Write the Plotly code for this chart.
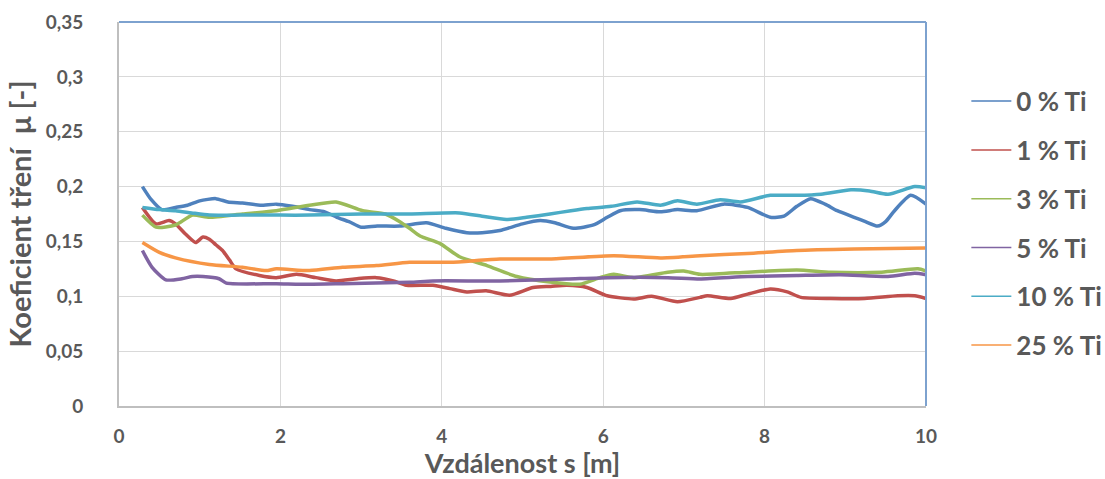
import plotly.graph_objects as go

# Friction coefficient vs. sliding distance for Ti additions
series_names = ["0 % Ti", "1 % Ti", "3 % Ti", "5 % Ti", "10 % Ti", "25 % Ti"]
series_colors = ["#4F81BD", "#C0504D", "#9BBB59", "#8064A2", "#4BACC6", "#F79646"]

s_ti0 = [0.29, 0.4, 0.53, 0.7, 0.85, 1.0, 1.2, 1.35, 1.53, 1.75, 1.95, 2.15, 2.36, 2.55, 2.7, 2.85,
         3.0, 3.2, 3.48, 3.81, 4.05, 4.31, 4.5, 4.72, 5.0, 5.22, 5.4, 5.63, 5.88, 6.05, 6.21, 6.45,
         6.71, 6.92, 7.16, 7.49, 7.79, 8.07, 8.24, 8.4, 8.57, 8.75, 8.9, 9.11, 9.25, 9.4, 9.5, 9.61,
         9.81, 10.0]
mu_ti0 = [0.200, 0.188, 0.179, 0.181, 0.183, 0.187, 0.189, 0.186, 0.185, 0.183, 0.184, 0.182, 0.179,
          0.177, 0.172, 0.168, 0.163, 0.164, 0.164, 0.167, 0.162, 0.158, 0.158, 0.160, 0.166, 0.169,
          0.167, 0.162, 0.165, 0.172, 0.178, 0.179, 0.177, 0.179, 0.178, 0.184, 0.181, 0.172, 0.173,
          0.182, 0.189, 0.184, 0.178, 0.172, 0.168, 0.164, 0.168, 0.178, 0.192, 0.184]

s_ti1 = [0.29, 0.46, 0.62, 0.7, 0.82, 0.95, 1.04, 1.12, 1.2, 1.28, 1.37, 1.45, 1.74, 1.95, 2.2, 2.44,
         2.69, 2.95, 3.19, 3.4, 3.56, 3.89, 4.1, 4.31, 4.55, 4.84, 5.13, 5.35, 5.55, 5.8, 6.05, 6.38,
         6.6, 6.92, 7.2, 7.29, 7.58, 7.79, 8.07, 8.28, 8.45, 8.82, 9.24, 9.65, 9.86, 10.0]
mu_ti1 = [0.181, 0.166, 0.169, 0.166, 0.157, 0.149, 0.154, 0.152, 0.147, 0.142, 0.133, 0.125, 0.119,
          0.117, 0.120, 0.117, 0.114, 0.116, 0.117, 0.114, 0.110, 0.110, 0.107, 0.104, 0.105, 0.101,
          0.108, 0.109, 0.110, 0.108, 0.1005, 0.0975, 0.100, 0.095, 0.099, 0.1005, 0.098, 0.102,
          0.1066, 0.104, 0.099, 0.098, 0.098, 0.1005, 0.1005, 0.098]

s_ti3 = [0.29, 0.46, 0.7, 0.91, 1.12, 1.53, 1.95, 2.36, 2.69, 3.02, 3.3, 3.48, 3.6, 3.73, 3.98, 4.22,
         4.56, 4.93, 5.34, 5.71, 5.96, 6.13, 6.38, 6.8, 7.0, 7.2, 7.79, 8.4, 8.82, 9.45, 9.9, 10.0]
mu_ti3 = [0.174, 0.163, 0.165, 0.174, 0.172, 0.175, 0.178, 0.183, 0.186, 0.178, 0.175, 0.168, 0.162,
          0.155, 0.148, 0.136, 0.128, 0.118, 0.113, 0.111, 0.117, 0.120, 0.117, 0.122, 0.123, 0.120,
          0.122, 0.124, 0.122, 0.122, 0.125, 0.123]

s_ti5 = [0.29, 0.41, 0.58, 0.78, 0.91, 1.04, 1.24, 1.33, 1.95, 2.36, 2.77, 3.6, 3.89, 4.72, 5.55,
         6.05, 6.8, 7.2, 7.79, 8.4, 8.94, 9.53, 9.86, 10.0]
mu_ti5 = [0.1417, 0.1264, 0.115, 0.116, 0.118, 0.118, 0.116, 0.112, 0.1115, 0.111, 0.1115, 0.1127,
          0.114, 0.114, 0.1158, 0.117, 0.117, 0.1158, 0.118, 0.119, 0.1197, 0.118, 0.121, 0.1197]

s_ti10 = [0.29, 0.5, 0.7, 0.9, 1.12, 1.5, 2.0, 2.36, 3.0, 3.6, 4.22, 4.5, 4.8, 5.05, 5.34, 5.6, 5.8,
          6.1, 6.42, 6.71, 6.92, 7.16, 7.45, 7.7, 8.07, 8.4, 8.7, 9.07, 9.3, 9.53, 9.86, 10.0]
mu_ti10 = [0.181, 0.179, 0.178, 0.176, 0.174, 0.174, 0.174, 0.174, 0.175, 0.175, 0.176, 0.173, 0.170,
           0.172, 0.175, 0.178, 0.180, 0.182, 0.186, 0.183, 0.187, 0.184, 0.188, 0.186, 0.192, 0.192,
           0.193, 0.197, 0.196, 0.193, 0.200, 0.199]

s_ti25 = [0.29, 0.5, 0.7, 1.12, 1.53, 1.82, 1.95, 2.36, 2.77, 3.19, 3.6, 4.1, 4.72, 5.34, 6.13, 6.71,
          7.2, 7.79, 8.4, 9.11, 10.0]
mu_ti25 = [0.149, 0.140, 0.135, 0.129, 0.1265, 0.1234, 0.125, 0.1234, 0.1265, 0.128, 0.131, 0.131,
           0.134, 0.134, 0.137, 0.135, 0.137, 0.139, 0.1417, 0.143, 0.144]

y_tick_vals = [0, 0.05, 0.1, 0.15, 0.2, 0.25, 0.3, 0.35]
y_tick_text = ["0", "0,05", "0,1", "0,15", "0,2", "0,25", "0,3", "0,35"]
x_tick_vals = [0, 2, 4, 6, 8, 10]

xs = [s_ti0, s_ti1, s_ti3, s_ti5, s_ti10, s_ti25]
ys = [mu_ti0, mu_ti1, mu_ti3, mu_ti5, mu_ti10, mu_ti25]

FONT = "Lato, 'Open Sans', sans-serif"
TXT = "#595959"

fig = go.Figure()

# measured curves (thick lines)
for name, color, x, y in zip(series_names, series_colors, xs, ys):
    fig.add_trace(go.Scatter(
        x=x, y=y, mode="lines", name=name, showlegend=False,
        line=dict(color=color, width=3.5, shape="spline", smoothing=0.6),
        hoverinfo="x+y+name",
    ))

# thin legend keys
for i, (name, color) in enumerate(zip(series_names, series_colors)):
    fig.add_trace(go.Scatter(
        x=[None], y=[None], mode="lines", name=name, legendgroup=f"g{i}",
        line=dict(color=color, width=1.5),
    ))

fig.update_layout(
    width=1105, height=479,
    margin=dict(l=119, r=179, t=22, b=73, autoexpand=False),
    paper_bgcolor="white", plot_bgcolor="white",
    font=dict(family=FONT, color=TXT, size=19, weight=700),
    legend=dict(
        x=1.05, xanchor="left", y=0.855, yanchor="top",
        font=dict(family=FONT, size=26, color=TXT, weight=700),
        tracegroupgap=12, traceorder="grouped",
        bgcolor="rgba(0,0,0,0)", itemwidth=40,
    ),
    xaxis=dict(
        range=[0, 10], tickvals=x_tick_vals, showgrid=True, gridcolor="#D9D9D9", gridwidth=1,
        showline=True, linecolor="#BFBFBF", linewidth=2, zeroline=False,
        ticks="", ticklabelstandoff=12,
        tickfont=dict(family=FONT, size=19, color=TXT, weight=700),
        title=dict(text="Vzdálenost s [m]", standoff=12,
                   font=dict(family=FONT, size=27, color=TXT, weight=700)),
    ),
    yaxis=dict(
        range=[0, 0.35], tickvals=y_tick_vals, ticktext=y_tick_text, showgrid=True,
        gridcolor="#D9D9D9", gridwidth=1,
        showline=True, linecolor="#BFBFBF", linewidth=2, zeroline=False,
        ticks="", ticklabelstandoff=30,
        tickfont=dict(family=FONT, size=19, color=TXT, weight=700),
        title=dict(text="Koeficient tření\u00a0 μ [-]", standoff=6,
                   font=dict(family=FONT, size=29, color=TXT, weight=700)),
    ),
    shapes=[
        dict(type="line", xref="paper", yref="paper", x0=0, x1=1, y0=1, y1=1,
             line=dict(color="#7DA2CF", width=2)),
        dict(type="line", xref="paper", yref="paper", x0=1, x1=1, y0=0, y1=1,
             line=dict(color="#7DA2CF", width=2)),
    ],
)

fig.write_html("out.html")
